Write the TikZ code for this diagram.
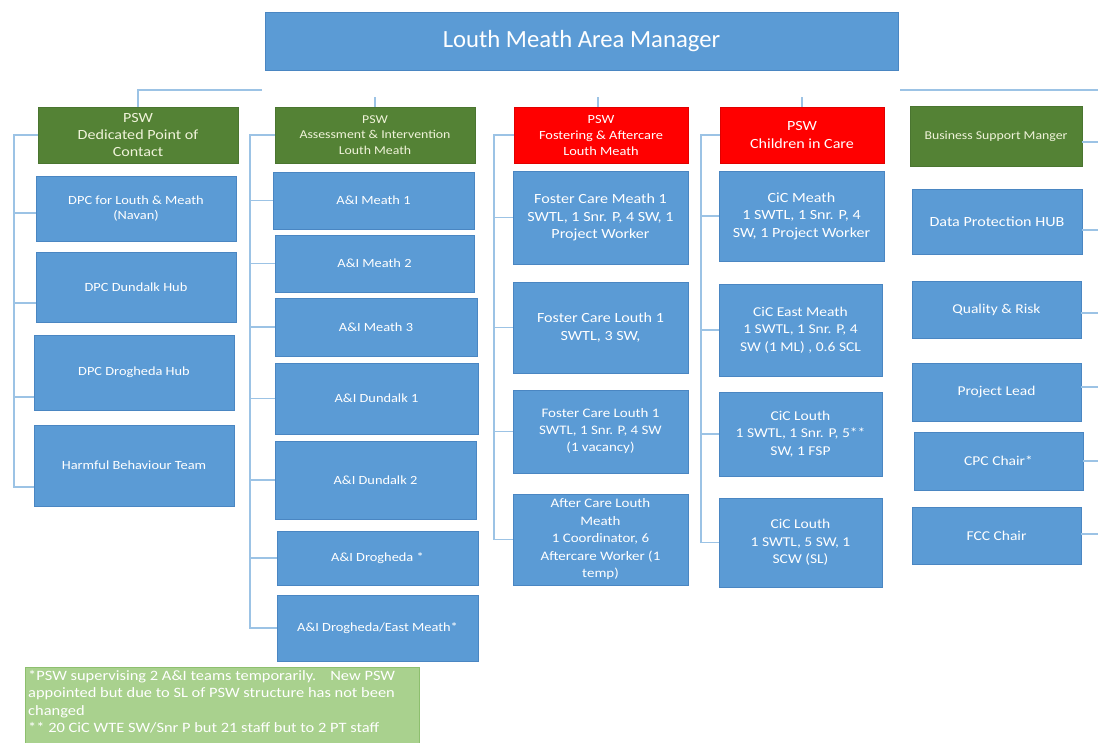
\documentclass[tikz,border=0pt]{standalone}
\usepackage{fontspec}
\setmainfont{Carlito}[FakeStretch=1.15]
\newfontfamily\titlefont{Carlito}
\definecolor{ofblue}{HTML}{5B9BD5}
\definecolor{blueedge}{HTML}{4A86C2}
\definecolor{ofgreen}{HTML}{548235}
\definecolor{greenedge}{HTML}{4A7530}
\definecolor{ofred}{HTML}{FF0000}
\definecolor{rededge}{HTML}{E00000}
\definecolor{paletext}{HTML}{F0F3DA}
\definecolor{linec}{HTML}{9CC3E5}
\definecolor{notefill}{HTML}{A9D18E}
\definecolor{noteedge}{HTML}{8DBF6E}
\newcommand\myfs[2]{\fontsize{#1}{#2}\selectfont}
\tikzset{
  box/.style={rectangle, draw=blueedge, line width=0.7pt, fill=ofblue, text=white,
    align=center, inner sep=0pt, outer sep=0pt, font=\myfs{13}{17}},
  gbox/.style={box, fill=ofgreen, draw=greenedge, text=paletext},
  rbox/.style={box, fill=ofred, draw=rededge, text=white},
  conn/.style={draw=linec, line width=1.3pt},
  wh/.style n args={2}{minimum width=#1pt, minimum height=#2pt}
}
\begin{document}
\begin{tikzpicture}[x=1pt,y=-1pt]
\useasboundingbox (0,0) rectangle (1098,742);
\clip (0,0) rectangle (1098,742);

% top
\node[box, wh={633}{58}, font=\titlefont\myfs{24.7}{28}] (top) at (581.5,41) {Louth Meath Area Manager};

% PSW row
\node[gbox, wh={200}{56}, font=\myfs{14}{17}] (p1) at (138,135) {PSW\\Dedicated Point of\\Contact};
\node[gbox, wh={200}{56}, font=\myfs{12}{15.3}] (p2) at (375,135) {PSW\\Assessment \& Intervention\\Louth Meath};
\node[rbox, wh={174}{56}, font=\myfs{12.5}{16}] (p3) at (601,135) {PSW\\Fostering \& Aftercare\\Louth Meath};
\node[rbox, wh={164}{56}, font=\myfs{14}{18}] (p4) at (802,135) {PSW\\Children in Care};
\node[gbox, wh={172}{60}, font=\myfs{12}{16}] (p5) at (996,136) {Business Support Manger};

% column 1
\node[box, wh={200}{65}, font=\myfs{12.5}{15}] (c11) at (136,208.5) {DPC for Louth \& Meath\\(Navan)};
\node[box, wh={200}{70}, font=\myfs{12.5}{15}] (c12) at (136,287) {DPC Dundalk Hub};
\node[box, wh={200}{75}, font=\myfs{12.5}{15}] (c13) at (134,372.5) {DPC Drogheda Hub};
\node[box, wh={200}{81}, font=\myfs{12.5}{15}] (c14) at (134,465.5) {Harmful Behaviour Team};

% column 2
\node[box, wh={201}{57}, font=\myfs{12.5}{15}] (c21) at (373.5,200.5) {A\&I Meath 1};
\node[box, wh={199}{57}, font=\myfs{12.5}{15}] (c22) at (374.5,263.5) {A\&I Meath 2};
\node[box, wh={202}{58}, font=\myfs{12.5}{15}] (c23) at (376,327) {A\&I Meath 3};
\node[box, wh={203}{71}, font=\myfs{12.5}{15}] (c24) at (376.5,398.5) {A\&I Dundalk 1};
\node[box, wh={201}{78}, font=\myfs{12.5}{15}] (c25) at (375.5,480) {A\&I Dundalk 2};
\node[box, wh={201}{54}, font=\myfs{12.5}{15}] (c26) at (377.5,558) {A\&I Drogheda *};
\node[box, wh={201}{66}, font=\myfs{12.5}{15}] (c27) at (377.5,628) {A\&I Drogheda/East Meath*};

% column 3
\node[box, wh={175}{93}, font=\myfs{14}{17.5}] (c31) at (600.5,217.5) {Foster Care Meath 1\\SWTL, 1 Snr. P, 4 SW, 1\\Project Worker};
\node[box, wh={175}{91}, font=\myfs{14}{17.5}] (c32) at (600.5,327.5) {Foster Care Louth 1\\SWTL, 3 SW,};
\node[box, wh={175}{83}, font=\myfs{13}{17}] (c33) at (600.5,431.5) {Foster Care Louth 1\\SWTL, 1 Snr. P, 4 SW\\(1 vacancy)};
\node[box, wh={175}{91}, font=\myfs{13}{17.5}] (c34) at (600.5,539.5) {After Care Louth\\Meath\\1 Coordinator, 6\\Aftercare Worker (1\\temp)};

% column 4
\node[box, wh={165}{90}, font=\myfs{14}{17.5}] (c41) at (801.5,216) {CiC Meath\\1 SWTL, 1 Snr. P, 4\\SW, 1 Project Worker};
\node[box, wh={163}{92}, font=\myfs{13.5}{17.5}] (c42) at (800.5,330) {CiC East Meath\\1 SWTL, 1 Snr. P, 4\\SW (1 ML) , 0.6 SCL};
\node[box, wh={163}{84}, font=\myfs{13.5}{17.5}] (c43) at (800.5,434) {CiC Louth\\1 SWTL, 1 Snr. P, 5**\\SW, 1 FSP};
\node[box, wh={163}{89}, font=\myfs{13.5}{17.5}] (c44) at (800.5,542.5) {CiC Louth\\1 SWTL, 5 SW, 1\\SCW (SL)};

% column 5
\node[box, wh={170}{65}, font=\myfs{14}{18}] (c51) at (997,221.5) {Data Protection HUB};
\node[box, wh={169}{57}, font=\myfs{13.5}{16}] (c52) at (996.5,309.5) {Quality \& Risk};
\node[box, wh={169}{58}, font=\myfs{13.5}{16}] (c53) at (996.5,392) {Project Lead};
\node[box, wh={169}{58}, font=\myfs{13.5}{16}] (c54) at (998.5,461) {CPC Chair*};
\node[box, wh={169}{57}, font=\myfs{13.5}{16}] (c55) at (996.5,535.5) {FCC Chair};

% note
\node[rectangle, draw=noteedge, line width=1pt, fill=notefill, minimum width=394pt, minimum height=100pt, inner sep=0pt, outer sep=0pt, anchor=north west] (note) at (25,667) {};
\node[anchor=north west, text=white, align=left, inner sep=0pt, font=\myfs{14.3}{17.5}] (notetext) at (28,670) {*PSW supervising 2 A\&I teams temporarily.\hspace{14pt}New PSW\\appointed but due to SL of PSW structure has not been\\changed\\** 20 CiC WTE SW/Snr P but 21 staff but to 2 PT staff};

% connector coordinates
\coordinate (hl) at (262,90);
\coordinate (hr) at (1098,90);
\coordinate (s2) at (375,97);
\coordinate (s3) at (598,97);
\coordinate (s4) at (802,97);
\coordinate (b1) at (14,0);
\coordinate (b2) at (250,0);
\coordinate (b3) at (494,0);
\coordinate (b4) at (701,0);
\coordinate (r5) at (1098,0);

% top connectors
\draw[conn] (hl) -| (p1.north);
\draw[conn] (s2) -- (p2.north);
\draw[conn] (s3) -- (p3.north -| s3);
\draw[conn] (s4) -- (p4.north);
\draw[conn] (hr) -- (900,90);

% bracket 1
\draw[conn] (p1.west) -- (p1.west -| b1) |- (c14.west |- 0,487);
\draw[conn] (c11.west |- 0,213) -- (b1 |- 0,213);
\draw[conn] (c12.west |- 0,303) -- (b1 |- 0,303);
\draw[conn] (c13.west |- 0,397) -- (b1 |- 0,397);

% bracket 2
\draw[conn] (p2.west) -- (p2.west -| b2) |- (c27.west);
\foreach \n in {c21,c22,c23,c24,c25,c26} \draw[conn] (\n.west) -- (\n.west -| b2);

% bracket 3
\draw[conn] (p3.west) -- (p3.west -| b3) |- (c34.west);
\foreach \n in {c31,c32,c33} \draw[conn] (\n.west) -- (\n.west -| b3);

% bracket 4
\draw[conn] (p4.west) -- (p4.west -| b4) |- (c44.west);
\foreach \n in {c41,c42,c43} \draw[conn] (\n.west) -- (\n.west -| b4);

% right side lines
\draw[conn] (p5.east |- 0,142) -- (r5 |- 0,142);
\draw[conn] (c51.east |- 0,230) -- (r5 |- 0,230);
\draw[conn] (c52.east |- 0,313) -- (r5 |- 0,313);
\draw[conn] (c53.east |- 0,387) -- (r5 |- 0,387);
\draw[conn] (c54.east |- 0,461) -- (r5 |- 0,461);
\draw[conn] (c55.east |- 0,534) -- (r5 |- 0,534);
\end{tikzpicture}
\end{document}
